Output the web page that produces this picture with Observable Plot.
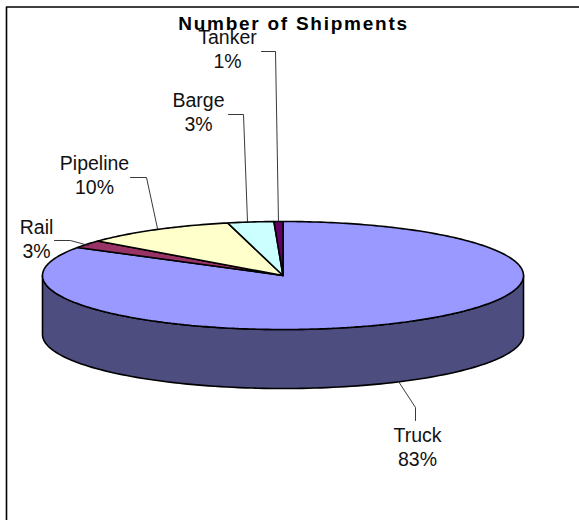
<!DOCTYPE html>
<html><head><meta charset="utf-8">
<script src="https://cdn.jsdelivr.net/npm/d3@7"></script>
<script src="https://cdn.jsdelivr.net/npm/@observablehq/plot@0.6"></script>
<style>html,body{margin:0;padding:0;background:#fff}svg{display:block}
g[font-weight="bold"] text{letter-spacing:1.75px}</style>
</head><body><div id="chart"></div>
<script>
const categories = ["Truck","Rail","Pipeline","Barge","Tanker"];
const labels = ["83%","3%","10%","3%","1%"];
const shares = [83.7,2.3,10.3,3.1,0.6];
const topColors = ["#9999ff","#993366","#ffffcc","#ccffff","#660066"];
const sideColor = "#4d4d80";
const title = "Number of Shipments";

// layout of the flattened pie, in page units
const cx=282.5, cy=275, rx=240.5, ry=54, depth=59;
const ell=(f,dy=0)=>{const a=2*Math.PI*f;return {x:cx+rx*Math.sin(a),y:cy-ry*Math.cos(a)+dy}};
const seq=(a,b,n)=>d3.range(n+1).map(i=>a+(b-a)*i/n);

const total=d3.sum(shares);
let acc=0;
const slices=[];
categories.forEach((c,i)=>{
  const f0=acc/total; acc+=shares[i]; const f1=acc/total;
  const pts=[{x:cx,y:cy},...seq(f0,f1,Math.max(4,Math.round(shares[i]*4))).map(f=>ell(f)),{x:cx,y:cy}];
  pts.forEach(p=>slices.push({...p,c}));
});
// visible wall: front half of the rim
const wall=[...seq(0.25,0.75,120).map(f=>ell(f)),...seq(0.75,0.25,120).map(f=>ell(f,depth))];
wall.push(wall[0]);

const labelPos=[[417,435],[36,227],[94,163],[198,100],[227,37]];
const leaders=[
 [[398,381],[415,407],[415,420]],
 [[54,240],[70,240],[88,245]],
 [[130,177],[146,177],[157,228]],
 [[228,114],[243,114],[247,221]],
 [[261,51],[275,51],[278,222]]
];
const leaderRows=leaders.flatMap((l,i)=>l.map(([x,y])=>({x,y,c:categories[i]})));
const textRows=categories.flatMap((c,i)=>[
  {x:labelPos[i][0],y:labelPos[i][1],t:c},
  {x:labelPos[i][0],y:labelPos[i][1]+24.5,t:labels[i]}
]);

const plot=Plot.plot({
  width:579,height:520,margin:0,
  style:{background:"#fff",fontFamily:"'Liberation Sans',Arial,sans-serif"},
  x:{domain:[0,579],range:[0,579],axis:null},
  y:{domain:[0,520],range:[0,520],axis:null},
  color:{domain:categories,range:topColors},
  marks:[
    Plot.line([{x:6,y:520},{x:6,y:6.5},{x:579,y:6.5}],{x:"x",y:"y",stroke:"#000",strokeWidth:1.6,curve:"linear"}),
    Plot.line(wall,{x:"x",y:"y",fill:sideColor,stroke:"#000",strokeWidth:1.6,curve:"linear"}),
    Plot.line(slices,{x:"x",y:"y",z:"c",fill:"c",stroke:"#000",strokeWidth:1.6,strokeLinejoin:"miter",curve:"linear"}),
    Plot.line(leaderRows,{x:"x",y:"y",z:"c",stroke:"#222",strokeWidth:0.9,curve:"linear"}),
    Plot.text(textRows,{x:"x",y:"y",text:"t",fontSize:19.5,fill:"#111",textAnchor:"middle",lineAnchor:"middle"}),
    Plot.text([title],{x:()=>293,y:()=>23,text:d=>d,fontSize:19,fontWeight:"bold",fill:"#000",textAnchor:"middle",lineAnchor:"middle"})
  ]
});
document.getElementById("chart").append(plot);
</script></body></html>
